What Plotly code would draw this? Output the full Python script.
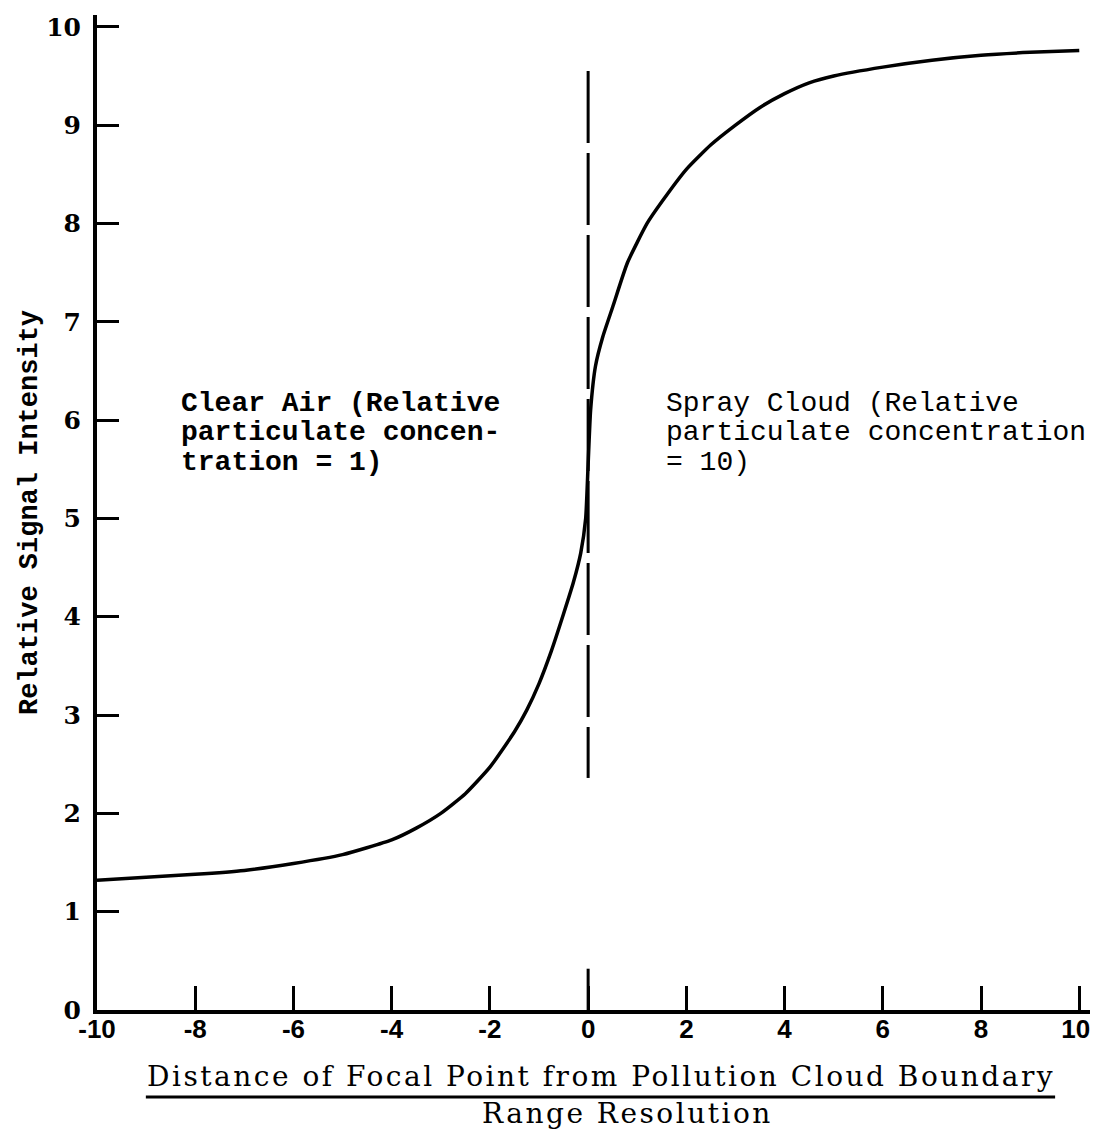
import plotly.graph_objects as go

# Curve data
x_vals = [-10, -9, -8, -7, -6, -5, -4, -3.5, -3, -2.5, -2, -1.5, -1.25, -1, -0.75,
          -0.5, -0.3, -0.15, -0.05, 0, 0.05, 0.15, 0.3, 0.5, 0.8, 1.2, 1.5, 2, 2.5,
          3, 3.5, 4, 4.5, 5, 6, 7, 8, 9, 10]
y_vals = [1.32, 1.35, 1.38, 1.42, 1.49, 1.58, 1.73, 1.85, 2.0, 2.2, 2.47, 2.83, 3.05,
          3.32, 3.65, 4.03, 4.35, 4.65, 5.0, 5.55, 6.1, 6.55, 6.85, 7.15, 7.6, 8.0,
          8.22, 8.55, 8.8, 9.0, 9.18, 9.32, 9.43, 9.5, 9.59, 9.66, 9.71, 9.74, 9.76]

# Boundary marker (dashed vertical line at x = 0)
boundary_x = 0
boundary_y = [9.55, 2.36]
boundary_tick_y = [0, 0.42]

# Axis ticks
x_tickvals = [-10, -8, -6, -4, -2, 0, 2, 4, 6, 8, 10]
x_ticktext = ["-10", "-8", "-6", "-4", "-2", "0", "2", "4", "6", "8", "10\u00a0"]
y_tickvals = [0, 1, 2, 3, 4, 5, 6, 7, 8, 9, 10]
y_ticktext = ["0", "1", "2", "3", "4", "5", "6", "7", "8", "9", "10"]

left_label = ["Clear Air (Relative", "particulate concen-", "tration = 1)"]
right_label = ["Spray Cloud (Relative", "particulate concentration", "= 10)"]
x_title_top = "Distance of Focal Point from Pollution Cloud Boundary"
x_title_bottom = "Range Resolution"
y_title = "Relative Signal Intensity"

fig = go.Figure()
fig.add_trace(go.Scatter(x=x_vals, y=y_vals, mode="lines",
                         line=dict(color="black", width=3.5, shape="spline", smoothing=0.5),
                         showlegend=False, hoverinfo="skip"))

fig.add_shape(type="line", xref="x", yref="y", x0=boundary_x, x1=boundary_x,
              y0=boundary_y[0], y1=boundary_y[1],
              line=dict(color="black", width=3, dash="72px,10px"))
fig.add_shape(type="line", xref="x", yref="y", x0=boundary_x, x1=boundary_x,
              y0=boundary_tick_y[0], y1=boundary_tick_y[1],
              line=dict(color="black", width=3))

mono = "Liberation Mono"
line_y = [6.165, 5.87, 5.565]
for i, t in enumerate(left_label):
    fig.add_annotation(x=-8.33, y=line_y[i], xref="x", yref="y", text=t,
                       showarrow=False, xanchor="left", yanchor="middle",
                       font=dict(family=mono, size=28, color="black", weight="bold"))
for i, t in enumerate(right_label):
    fig.add_annotation(x=1.55, y=line_y[i], xref="x", yref="y", text=t,
                       showarrow=False, xanchor="left", yanchor="middle",
                       font=dict(family=mono, size=28, color="black"))

serif = "DejaVu Serif"
sp = '<span style="letter-spacing:2.5px">{}</span>'
fig.add_annotation(x=0.506, y=-0.0673, xref="paper", yref="paper",
                   text=sp.format(x_title_top),
                   showarrow=False, xanchor="center", yanchor="middle",
                   font=dict(family=serif, size=28, color="black"))
fig.add_annotation(x=0.532, y=-0.104, xref="paper", yref="paper",
                   text=sp.format(x_title_bottom),
                   showarrow=False, xanchor="center", yanchor="middle",
                   font=dict(family=serif, size=28, color="black"))
fig.add_shape(type="line", xref="paper", yref="paper", x0=0.049, x1=0.961,
              y0=-0.0874, y1=-0.0874, line=dict(color="black", width=3))

fig.update_xaxes(range=[-10, 10.3], tickvals=x_tickvals, ticktext=x_ticktext,
                 ticks="inside", ticklen=24, tickwidth=3, tickcolor="black",
                 showline=True, linecolor="black", linewidth=4,
                 showgrid=False, zeroline=False, automargin=False,
                 ticklabelstandoff=-7, ticklabeloverflow="allow",
                 tickfont=dict(family="Liberation Sans", size=26, color="black",
                               weight="bold"))
fig.update_yaxes(range=[0, 10.12], tickvals=y_tickvals, ticktext=y_ticktext,
                 ticks="inside", ticklen=22, tickwidth=3, tickcolor="black",
                 showline=True, linecolor="black", linewidth=4,
                 showgrid=False, zeroline=False, automargin=False,
                 ticklabelstandoff=7,
                 tickfont=dict(family=serif, size=25, color="black", weight="bold"),
                 title=dict(text=y_title, standoff=2,
                            font=dict(family=mono, size=27, color="black", weight="bold")))

# The page body adds an 8px offset, so the figure is 8px smaller on each axis
fig.update_layout(width=1090, height=1122, margin=dict(l=89, r=4, t=7, b=120),
                  plot_bgcolor="white", paper_bgcolor="white")

fig.write_html("out.html")
